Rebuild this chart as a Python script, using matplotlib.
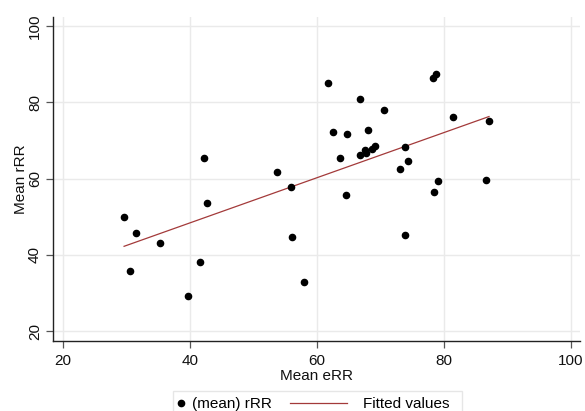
import numpy as np
import matplotlib
matplotlib.use('Agg')
import matplotlib.pyplot as plt
from matplotlib.lines import Line2D
from matplotlib.patches import Rectangle

plt.rcParams['font.family'] = ['Liberation Sans', 'DejaVu Sans']

# ── datos ────────────────────────────────────────────────────────────────────
mean_err = [29.6, 31.4, 30.5, 35.3, 39.6, 41.6, 42.2, 42.6, 53.7, 55.9,
            56.1, 58.0, 61.7, 66.8, 70.6, 62.5, 64.8, 68.1, 63.6, 66.8,
            67.5, 67.7, 68.7, 69.1, 73.9, 73.0, 74.4, 78.3, 78.8, 81.5,
            87.1, 79.1, 78.5, 86.6, 64.5, 73.9]
mean_rrr = [50.0, 45.7, 35.9, 43.0, 29.2, 38.1, 65.4, 53.7, 61.7, 57.9,
            44.7, 32.8, 85.1, 80.8, 78.0, 72.2, 71.7, 72.8, 65.5, 66.1,
            67.5, 66.7, 67.8, 68.5, 68.3, 62.5, 64.6, 86.3, 87.5, 76.2,
            75.2, 59.5, 56.5, 59.7, 55.8, 45.3]
x_ticks = [20, 40, 60, 80, 100]
y_ticks = [20, 40, 60, 80, 100]

FS = 11
RED = '#a33a3a'

x = np.array(mean_err)
y = np.array(mean_rrr)
slope, intercept = np.polyfit(x, y, 1)
x_fit = np.array([x.min(), x.max()])
y_fit = intercept + slope * x_fit

# ── gráfica ──────────────────────────────────────────────────────────────────
fig = plt.figure(figsize=(5.85, 4.11), dpi=100, facecolor='white')
ax = fig.add_axes([0.0906, 0.170, 0.9004, 0.789])

ax.scatter(x, y, s=20, color='black', zorder=3)
ax.plot(x_fit, y_fit, color=RED, linewidth=0.9, zorder=2)

ax.set_xlim(18.4, 101.4)
ax.set_ylim(17.4, 102.4)
ax.set_xticks(x_ticks)
ax.set_yticks(y_ticks)
ax.grid(True, color='#eaeaea', linewidth=1.0)
ax.set_axisbelow(True)

for side in ['top', 'right']:
    ax.spines[side].set_visible(False)
for side in ['left', 'bottom']:
    ax.spines[side].set_color('#222222')
    ax.spines[side].set_linewidth(1.0)

ax.tick_params(axis='both', direction='out', length=5, width=0.9,
               color='#555555', labelsize=FS, labelcolor='#111111')
ax.tick_params(axis='x', pad=4)
ax.tick_params(axis='y', pad=3)
plt.setp(ax.get_yticklabels(), rotation=90, va='center')

ax.set_xlabel('Mean eRR', fontsize=FS, labelpad=1, color='#111111')
ax.set_ylabel('Mean rRR', fontsize=FS, labelpad=0, color='#111111')

# ── leyenda (marco + dos claves) ─────────────────────────────────────────────
fig.patches.append(Rectangle((173 / 585, -0.05), (462 - 173) / 585,
                             0.05 + 1 - 391 / 411, transform=fig.transFigure,
                             fill=False, edgecolor='#e6e6e6', linewidth=1.0))
y_leg = 1 - 404 / 411
h_pts = Line2D([], [], linestyle='none', marker='o', markersize=4.5,
               color='black')
h_fit = Line2D([], [], color=RED, linewidth=0.9)
fig.legend([h_pts], ['(mean) rRR'], loc='center left',
           bbox_to_anchor=(173 / 585, y_leg), frameon=False, fontsize=FS,
           handlelength=1.0, handletextpad=0.25, borderpad=0,
           borderaxespad=0)
fig.legend([h_fit], ['Fitted values'], loc='center left',
           bbox_to_anchor=(290 / 585, y_leg), frameon=False, fontsize=FS,
           handlelength=3.7, handletextpad=1.1, borderpad=0,
           borderaxespad=0)

plt.savefig('out.png', dpi=100, facecolor='white')
plt.close()
